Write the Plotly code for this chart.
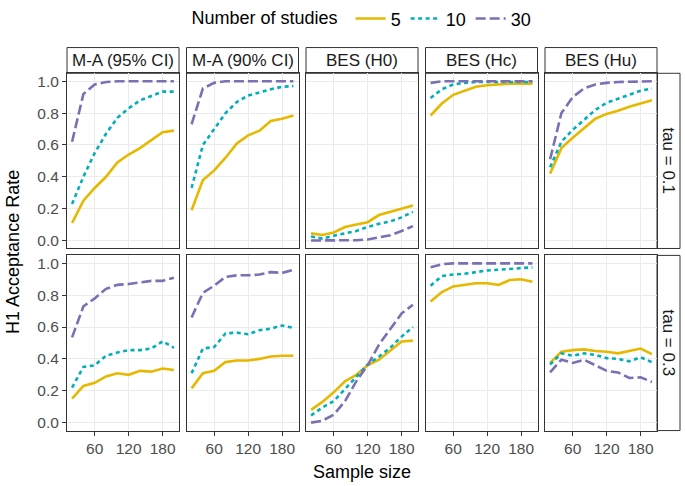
import plotly.graph_objects as go

W, H = 685, 486

sample_size = [20, 40, 60, 80, 100, 120, 140, 160, 180, 200]
methods = ["M-A (95% CI)", "M-A (90% CI)", "BES (H0)", "BES (Hc)", "BES (Hu)"]
taus = ["tau = 0.1", "tau = 0.3"]
studies = ["5", "10", "30"]
x_ticks = [60, 120, 180]
y_ticks = [0.0, 0.2, 0.4, 0.6, 0.8, 1.0]
y_tick_labels = ["0.0", "0.2", "0.4", "0.6", "0.8", "1.0"]

# tau = 0.1
ma95_t1_k5 = [0.11, 0.25, 0.33, 0.40, 0.49, 0.54, 0.58, 0.63, 0.68, 0.69]
ma95_t1_k10 = [0.23, 0.40, 0.55, 0.67, 0.77, 0.83, 0.88, 0.91, 0.935, 0.935]
ma95_t1_k30 = [0.62, 0.92, 0.98, 0.995, 1.0, 1.0, 1.0, 1.0, 1.0, 1.0]
ma90_t1_k5 = [0.19, 0.38, 0.44, 0.52, 0.61, 0.66, 0.69, 0.75, 0.765, 0.785]
ma90_t1_k10 = [0.33, 0.60, 0.70, 0.80, 0.87, 0.91, 0.93, 0.95, 0.965, 0.97]
ma90_t1_k30 = [0.73, 0.955, 0.99, 1.0, 1.0, 1.0, 1.0, 1.0, 1.0, 1.0]
h0_t1_k5 = [0.045, 0.035, 0.05, 0.085, 0.10, 0.115, 0.16, 0.18, 0.20, 0.22]
h0_t1_k10 = [0.025, 0.012, 0.03, 0.045, 0.06, 0.085, 0.105, 0.12, 0.145, 0.18]
h0_t1_k30 = [0.0, 0.0, 0.0, 0.0, 0.002, 0.006, 0.02, 0.033, 0.06, 0.09]
hc_t1_k5 = [0.785, 0.86, 0.915, 0.94, 0.965, 0.975, 0.98, 0.985, 0.985, 0.985]
hc_t1_k10 = [0.895, 0.95, 0.98, 0.99, 0.995, 0.995, 0.995, 0.995, 0.995, 0.995]
hc_t1_k30 = [0.99, 1.0, 1.0, 1.0, 1.0, 1.0, 1.0, 1.0, 1.0, 1.0]
hu_t1_k5 = [0.42, 0.58, 0.645, 0.705, 0.765, 0.795, 0.815, 0.84, 0.86, 0.88]
hu_t1_k10 = [0.46, 0.62, 0.695, 0.76, 0.82, 0.865, 0.89, 0.915, 0.94, 0.955]
hu_t1_k30 = [0.51, 0.80, 0.90, 0.955, 0.98, 0.99, 0.995, 0.998, 1.0, 1.0]

# tau = 0.3
ma95_t3_k5 = [0.15, 0.23, 0.25, 0.29, 0.31, 0.30, 0.325, 0.32, 0.34, 0.33]
ma95_t3_k10 = [0.22, 0.35, 0.36, 0.42, 0.44, 0.455, 0.455, 0.465, 0.51, 0.47]
ma95_t3_k30 = [0.535, 0.73, 0.78, 0.84, 0.865, 0.87, 0.88, 0.89, 0.89, 0.91]
ma90_t3_k5 = [0.215, 0.31, 0.325, 0.38, 0.39, 0.39, 0.40, 0.415, 0.42, 0.42]
ma90_t3_k10 = [0.31, 0.465, 0.475, 0.56, 0.565, 0.555, 0.58, 0.59, 0.61, 0.595]
ma90_t3_k30 = [0.66, 0.815, 0.86, 0.915, 0.925, 0.925, 0.93, 0.945, 0.94, 0.96]
h0_t3_k5 = [0.08, 0.13, 0.19, 0.26, 0.30, 0.36, 0.395, 0.455, 0.51, 0.515]
h0_t3_k10 = [0.045, 0.095, 0.135, 0.21, 0.29, 0.365, 0.415, 0.47, 0.54, 0.60]
h0_t3_k30 = [0.0, 0.012, 0.05, 0.135, 0.26, 0.36, 0.49, 0.59, 0.685, 0.74]
hc_t3_k5 = [0.76, 0.82, 0.855, 0.865, 0.875, 0.875, 0.865, 0.895, 0.90, 0.885]
hc_t3_k10 = [0.86, 0.92, 0.93, 0.935, 0.945, 0.955, 0.96, 0.965, 0.97, 0.975]
hc_t3_k30 = [0.975, 0.995, 1.0, 1.0, 1.0, 1.0, 1.0, 1.0, 1.0, 1.0]
hu_t3_k5 = [0.375, 0.445, 0.455, 0.46, 0.45, 0.445, 0.435, 0.45, 0.465, 0.43]
hu_t3_k10 = [0.365, 0.435, 0.42, 0.435, 0.425, 0.405, 0.40, 0.385, 0.41, 0.38]
hu_t3_k30 = [0.315, 0.395, 0.375, 0.395, 0.36, 0.325, 0.315, 0.28, 0.285, 0.255]

panels = [
    [[ma95_t1_k5, ma95_t1_k10, ma95_t1_k30],
     [ma90_t1_k5, ma90_t1_k10, ma90_t1_k30],
     [h0_t1_k5, h0_t1_k10, h0_t1_k30],
     [hc_t1_k5, hc_t1_k10, hc_t1_k30],
     [hu_t1_k5, hu_t1_k10, hu_t1_k30]],
    [[ma95_t3_k5, ma95_t3_k10, ma95_t3_k30],
     [ma90_t3_k5, ma90_t3_k10, ma90_t3_k30],
     [h0_t3_k5, h0_t3_k10, h0_t3_k30],
     [hc_t3_k5, hc_t3_k10, hc_t3_k30],
     [hu_t3_k5, hu_t3_k10, hu_t3_k30]],
]

colors = ["#E7B800", "#00AFBB", "#7B70B4"]
dashes = ["solid", "4px,3.5px", "10px,4px"]

FONT = "Liberation Sans"
col_left = [67, 186.5, 306, 425.5, 545]
panel_w = 112
row_top = [69, 253]
panel_h = 177
strip_top = 43
strip_right_w = 23

def px_x(v):
    return v / W

def px_y(v):
    return 1 - v / H

fig = go.Figure()
layout = {}
for r in range(2):
    for c in range(5):
        idx = r * 5 + c + 1
        xa = "xaxis" if idx == 1 else f"xaxis{idx}"
        ya = "yaxis" if idx == 1 else f"yaxis{idx}"
        xref = "x" if idx == 1 else f"x{idx}"
        yref = "y" if idx == 1 else f"y{idx}"
        for k in range(3):
            fig.add_trace(go.Scatter(
                x=sample_size, y=panels[r][c][k], mode="lines",
                line=dict(color=colors[k], width=2.6, dash=dashes[k]),
                name=studies[k], legendgroup=studies[k],
                showlegend=(idx == 1), xaxis=xref, yaxis=yref,
            ))
        layout[xa] = dict(
            domain=[px_x(col_left[c]), px_x(col_left[c] + panel_w)],
            range=[11, 209], tickvals=x_ticks, ticktext=[str(t) for t in x_ticks],
            showticklabels=(r == 1), ticks="outside" if r == 1 else "",
            ticklen=4, tickcolor="#333333",
            tickfont=dict(family=FONT, size=15.5, color="#4D4D4D"),
            showgrid=True, gridcolor="#EBEBEB", gridwidth=1,
            showline=True, mirror=True, linecolor="#333333", linewidth=1,
            zeroline=False, anchor=yref, fixedrange=True,
        )
        layout[ya] = dict(
            domain=[px_y(row_top[r] + panel_h), px_y(row_top[r])],
            range=[-0.05, 1.05], tickvals=y_ticks, ticktext=y_tick_labels,
            showticklabels=(c == 0), ticks="outside" if c == 0 else "",
            ticklen=4, tickcolor="#333333",
            tickfont=dict(family=FONT, size=15.5, color="#4D4D4D"),
            showgrid=True, gridcolor="#EBEBEB", gridwidth=1,
            showline=True, mirror=True, linecolor="#333333", linewidth=1,
            zeroline=False, anchor=xref, fixedrange=True,
        )

shapes = []
annotations = []
for c in range(5):
    shapes.append(dict(type="rect", xref="paper", yref="paper",
                       x0=px_x(col_left[c]), x1=px_x(col_left[c] + panel_w),
                       y0=px_y(row_top[0]), y1=px_y(strip_top),
                       line=dict(color="#333333", width=1), fillcolor="white", layer="below"))
    annotations.append(dict(text=methods[c], xref="paper", yref="paper",
                            x=px_x(col_left[c] + panel_w / 2), y=px_y((strip_top + row_top[0]) / 2),
                            showarrow=False, xanchor="center", yanchor="middle",
                            font=dict(family=FONT, size=17, color="#1A1A1A")))
right_x0 = col_left[4] + panel_w
for r in range(2):
    shapes.append(dict(type="rect", xref="paper", yref="paper",
                       x0=px_x(right_x0), x1=px_x(right_x0 + strip_right_w),
                       y0=px_y(row_top[r] + panel_h), y1=px_y(row_top[r]),
                       line=dict(color="#333333", width=1), fillcolor="white", layer="below"))
    annotations.append(dict(text=taus[r], xref="paper", yref="paper",
                            x=px_x(right_x0 + strip_right_w / 2), y=px_y(row_top[r] + panel_h / 2),
                            showarrow=False, xanchor="center", yanchor="middle", textangle=90,
                            font=dict(family=FONT, size=17, color="#1A1A1A")))

annotations.append(dict(text="Sample size", xref="paper", yref="paper",
                        x=px_x((col_left[0] + col_left[4] + panel_w) / 2), y=px_y(472),
                        showarrow=False, xanchor="center", yanchor="middle",
                        font=dict(family=FONT, size=18, color="black")))
annotations.append(dict(text="H1 Acceptance Rate", xref="paper", yref="paper",
                        x=px_x(13), y=px_y((row_top[0] + row_top[1] + panel_h) / 2),
                        showarrow=False, xanchor="center", yanchor="middle", textangle=-90,
                        font=dict(family=FONT, size=18, color="black")))

fig.update_layout(
    width=W, height=H,
    margin=dict(l=0, r=0, t=0, b=0),
    paper_bgcolor="white", plot_bgcolor="white",
    shapes=shapes, annotations=annotations,
    legend=dict(orientation="h", x=0.53, xanchor="center", y=px_y(14), yanchor="middle",
                title=dict(text="Number of studies ", side="left",
                           font=dict(family=FONT, size=18, color="black")),
                font=dict(family=FONT, size=18, color="black"),
                bgcolor="rgba(0,0,0,0)", itemwidth=30, tracegroupgap=0),
    **layout,
)

fig.write_html("out.html", config={"displayModeBar": False},
               post_script="document.body.style.margin='0';document.body.style.overflow='hidden';")
